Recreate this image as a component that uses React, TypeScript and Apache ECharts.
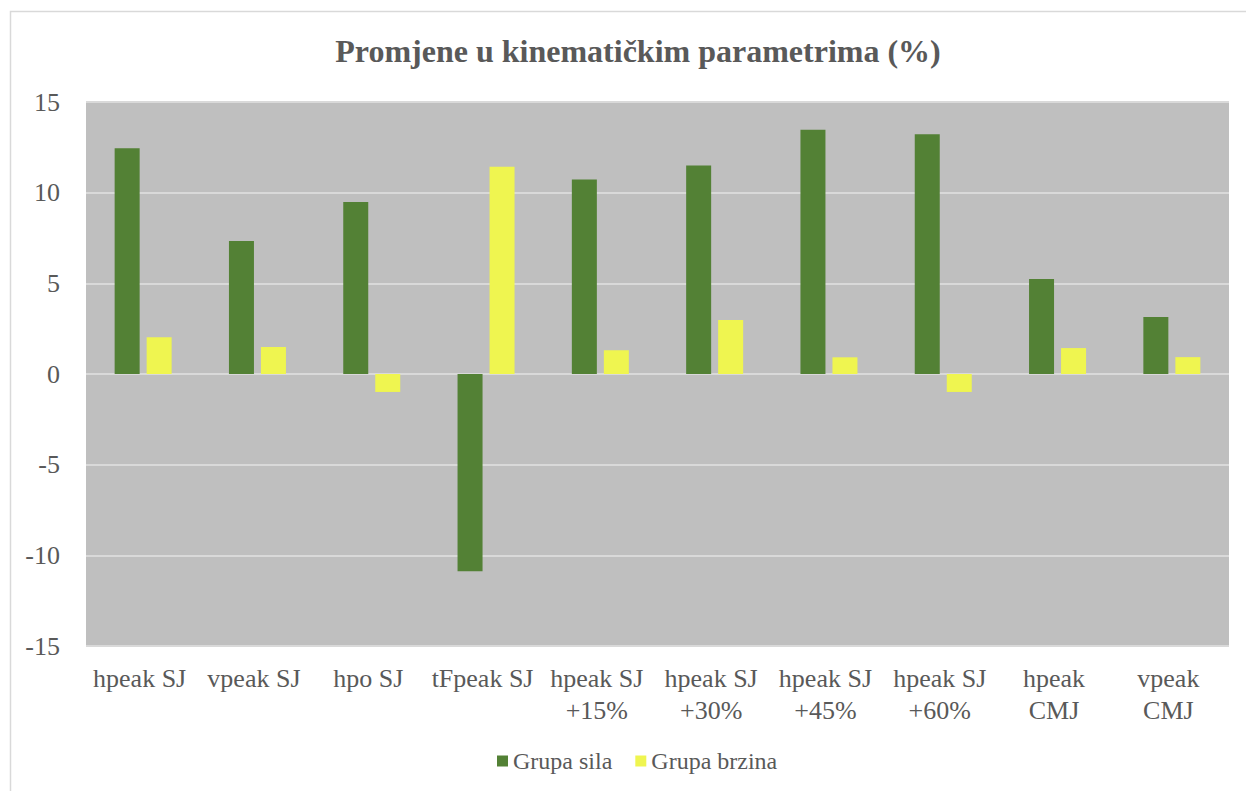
import React, { useEffect, useRef } from "react";
import * as echarts from "echarts";

const categories = [
  "hpeak SJ",
  "vpeak SJ",
  "hpo SJ",
  "tFpeak SJ",
  "hpeak SJ\n+15%",
  "hpeak SJ\n+30%",
  "hpeak SJ\n+45%",
  "hpeak SJ\n+60%",
  "hpeak\nCMJ",
  "vpeak\nCMJ",
];
const grupaSila = [12.45, 7.33, 9.48, -10.88, 10.72, 11.5, 13.47, 13.22, 5.24, 3.15];
const grupaBrzina = [2.02, 1.49, -0.99, 11.43, 1.31, 2.98, 0.92, -0.99, 1.43, 0.93];
const yTicks = { min: -15, max: 15, interval: 5 };

const FONT = "Liberation Serif";
const TXT = "#595959";

export default function App() {
  const ref = useRef<HTMLDivElement>(null);
  useEffect(() => {
    if (!ref.current) return;
    const chart = echarts.init(ref.current, undefined, { renderer: "svg" });
    chart.setOption({
      animation: false,
      backgroundColor: "#ffffff",
      textStyle: { fontFamily: FONT },
      graphic: [
        {
          type: "rect",
          shape: { x: 10.5, y: 11.5, width: 1250, height: 800 },
          style: { fill: "none", stroke: "#D9D9D9", lineWidth: 1.5 },
          silent: true,
        },
      ],
      title: {
        text: "Promjene u kinematičkim parametrima (%)",
        left: 633,
        textAlign: "center",
        top: 30,
        textStyle: { fontFamily: FONT, fontSize: 32, fontWeight: "bold", color: TXT },
      },
      legend: {
        left: 492,
        top: 744,
        itemWidth: 11,
        itemHeight: 11,
        itemGap: 23,
        icon: "rect",
        textStyle: { fontFamily: FONT, fontSize: 24, color: TXT },
        data: ["Grupa sila", "Grupa brzina"],
      },
      grid: {
        left: 86,
        right: 17,
        top: 102,
        bottom: 145,
        show: true,
        backgroundColor: "#BFBFBF",
        borderWidth: 0,
      },
      xAxis: {
        type: "category",
        data: categories,
        axisLine: { show: false, onZero: false },
        axisTick: { show: false },
        axisLabel: {
          interval: 0,
          margin: 16,
          fontFamily: FONT,
          fontSize: 26,
          lineHeight: 32,
          color: TXT,
          align: "center",
          padding: [0, 7, 0, 0],
        },
      },
      yAxis: {
        type: "value",
        min: yTicks.min,
        max: yTicks.max,
        interval: yTicks.interval,
        axisLine: { show: false },
        axisTick: { show: false },
        splitLine: { lineStyle: { color: "#D9D9D9", width: 2 } },
        axisLabel: {
          margin: 26,
          fontFamily: FONT,
          fontSize: 26,
          color: TXT,
          padding: [0, 0, 5, 0],
        },
      },
      series: [
        {
          name: "Grupa sila",
          type: "bar",
          data: grupaSila,
          barWidth: 25,
          barGap: "28%",
          itemStyle: { color: "#538135" },
        },
        {
          name: "Grupa brzina",
          type: "bar",
          data: grupaBrzina,
          barWidth: 25,
          itemStyle: { color: "#EFF550" },
        },
      ],
    });
    return () => chart.dispose();
  }, []);
  return (
    <div
      ref={ref}
      style={{ position: "fixed", left: 0, top: 0, width: 1246, height: 791 }}
    />
  );
}
